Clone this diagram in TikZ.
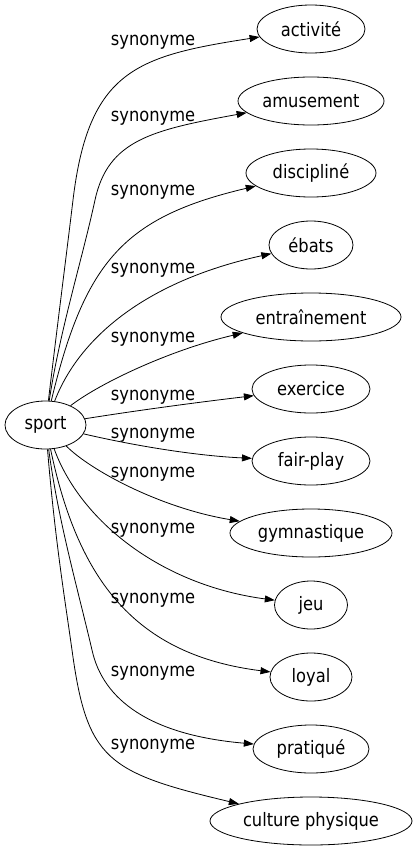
\documentclass[tikz,border=0pt]{standalone}
\usepackage{fontspec}
\setmainfont{DejaVu Sans}[FakeStretch=0.88]
\usetikzlibrary{arrows.meta,shapes.geometric}
\begin{document}
\begin{tikzpicture}[x=1bp,y=-1bp,
  every node/.style={font=\fontsize{18.5bp}{22bp}\selectfont},
  term/.style={draw, ellipse, line width=0.8bp, inner sep=0pt, minimum height=48bp},
  lbl/.style={anchor=base, inner sep=0pt},
  syn/.style={line width=0.8bp, -{Triangle[length=10bp,width=7bp]}}]
\useasboundingbox (0,0) rectangle (417,851);
% nodes
\node[term, minimum width=81bp]  (sport)   at (45.5,425) {sport};
\node[term, minimum width=108bp] (activite) at (311,29)  {activité};
\node[term, minimum width=146bp] (amusement) at (311,101) {amusement};
\node[term, minimum width=130bp] (discipline) at (311,173) {discipliné};
\node[term, minimum width=84bp]  (ebats) at (311,245) {ébats};
\node[term, minimum width=180bp] (entrainement) at (311,317) {entraînement};
\node[term, minimum width=118bp] (exercice) at (311,389) {exercice};
\node[term, minimum width=118bp] (fairplay) at (311,461) {fair-play};
\node[term, minimum width=162bp] (gymnastique) at (311,533) {gymnastique};
\node[term, minimum width=73bp]  (jeu) at (311,605) {jeu};
\node[term, minimum width=82bp]  (loyal) at (311,677) {loyal};
\node[term, minimum width=116bp] (pratique) at (311,749) {pratiqué};
\node[term, minimum width=202bp] (culture) at (311,821) {culture physique};
% labels
\node[lbl] (l1)  at (153,45)  {synonyme};
\node[lbl] (l2)  at (153,121) {synonyme};
\node[lbl] (l3)  at (153,195) {synonyme};
\node[lbl] (l4)  at (153,273) {synonyme};
\node[lbl] (l5)  at (153,342) {synonyme};
\node[lbl] (l6)  at (153,400) {synonyme};
\node[lbl] (l7)  at (153,438) {synonyme};
\node[lbl] (l8)  at (153,477) {synonyme};
\node[lbl] (l9)  at (153,533) {synonyme};
\node[lbl] (l10) at (153,603) {synonyme};
\node[lbl] (l11) at (153,676) {synonyme};
\node[lbl] (l12) at (153,749) {synonyme};
% edges
\draw[syn] (sport) .. controls (58,320) and (67,250) .. (73,200) .. controls (88.6,70) and (137,56) .. (activite);
\draw[syn] (sport) .. controls (60,330) and (82,260) .. (95,200) .. controls (108,140) and (152,130) .. (amusement);
\draw[syn] (sport) .. controls (85,260) and (125,217) .. (discipline);
\draw[syn] (sport) .. controls (80,335) and (150,280) .. (ebats);
\draw[syn] (sport) .. controls (100,383) and (170,350) .. (entrainement);
\draw[syn] (sport) .. controls (140,410) and (200,402) .. (exercice);
\draw[syn] (sport) .. controls (140,447) and (200,456) .. (fairplay);
\draw[syn] (sport) .. controls (90,470) and (160,508) .. (gymnastique);
\draw[syn] (sport) .. controls (80,520) and (160,585) .. (jeu);
\draw[syn] (sport) .. controls (78,580) and (135,655) .. (loyal);
\draw[syn] (sport) .. controls (58,520) and (78,590) .. (92,650) .. controls (103,700) and (150,735) .. (pratique);
\draw[syn] (sport) .. controls (55,540) and (65,600) .. (72,650) .. controls (87,760) and (107,772.5) .. (culture);
\end{tikzpicture}
\end{document}
